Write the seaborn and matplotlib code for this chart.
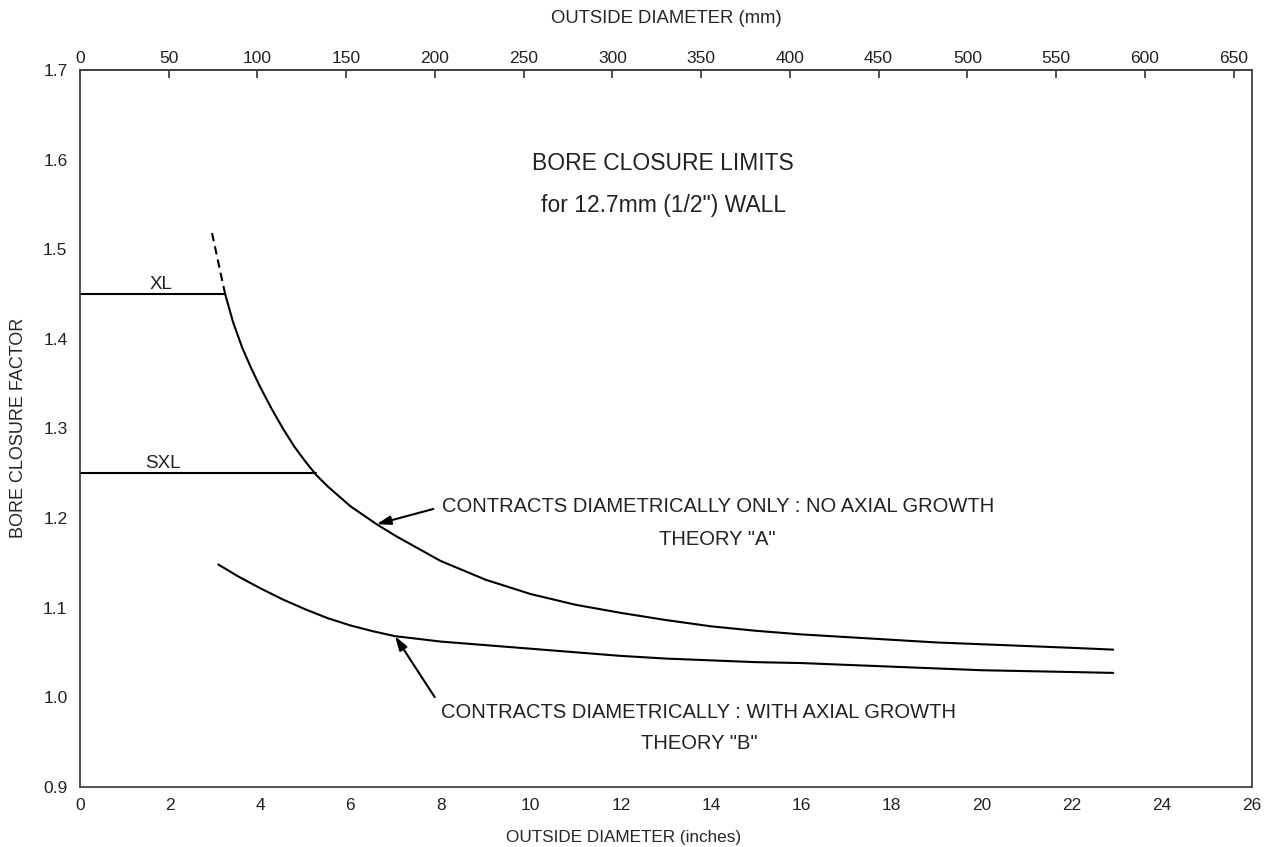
import pandas as pd
import matplotlib
matplotlib.use("Agg")
import matplotlib.pyplot as plt
import seaborn as sns

# --------------------------
# Data (inches vs bore closure factor)
# --------------------------
theory_a_dash_x = [2.93, 3.07, 3.22]
theory_a_dash_y = [1.518, 1.485, 1.450]

theory_a_x = [3.22, 3.4, 3.6, 3.8, 4.0, 4.25, 4.5, 4.75, 5.0, 5.24, 5.5, 6.0, 6.58, 7.0, 7.5,
              8.0, 9.0, 10.0, 11.0, 12.0, 13.0, 14.0, 15.0, 16.0, 17.0, 18.0, 19.0, 20.0,
              21.0, 22.0, 22.92]
theory_a_y = [1.450, 1.418, 1.390, 1.367, 1.346, 1.322, 1.300, 1.280, 1.263, 1.248, 1.235,
              1.213, 1.193, 1.180, 1.166, 1.152, 1.131, 1.115, 1.103, 1.094, 1.086, 1.079,
              1.074, 1.070, 1.067, 1.064, 1.061, 1.059, 1.057, 1.055, 1.053]

theory_b_x = [3.07, 3.5, 4.0, 4.5, 5.0, 5.25, 5.5, 6.0, 6.5, 6.99, 7.5, 8.0, 9.0, 10.0, 11.0,
              12.0, 13.0, 14.0, 15.0, 16.0, 17.0, 18.0, 19.0, 20.0, 21.0, 22.0, 22.92]
theory_b_y = [1.148, 1.135, 1.1215, 1.109, 1.098, 1.093, 1.088, 1.080, 1.0735, 1.068, 1.065,
              1.062, 1.058, 1.054, 1.050, 1.046, 1.043, 1.041, 1.039, 1.038, 1.036, 1.034,
              1.032, 1.030, 1.029, 1.028, 1.027]

xl_x = [0, 3.22]
xl_y = [1.45, 1.45]
sxl_x = [0, 5.24]
sxl_y = [1.25, 1.25]

x_ticks = list(range(0, 27, 2))
y_ticks = [0.9, 1.0, 1.1, 1.2, 1.3, 1.4, 1.5, 1.6, 1.7]
mm_ticks = list(range(0, 651, 50))

# --------------------------
# Style
# --------------------------
sns.set_theme(style="white")
plt.rcParams["font.family"] = ["Liberation Sans", "DejaVu Sans"]
plt.rcParams["text.color"] = "#222222"

fig = plt.figure(figsize=(12.65, 8.47), dpi=100)
ax = fig.add_axes([0.0632, 0.0712, 0.9265, 0.8462])

line_kw = dict(color="black", linewidth=1.5, estimator=None, sort=False, legend=False, ax=ax)

df_a = pd.DataFrame({"x": theory_a_x, "y": theory_a_y})
df_b = pd.DataFrame({"x": theory_b_x, "y": theory_b_y})

sns.lineplot(data=df_a, x="x", y="y", **line_kw)
sns.lineplot(data=df_b, x="x", y="y", **line_kw)
ax.plot(theory_a_dash_x, theory_a_dash_y, color="black", linewidth=1.5, linestyle=(0, (4, 2.5)))
ax.plot(xl_x, xl_y, color="black", linewidth=1.5)
ax.plot(sxl_x, sxl_y, color="black", linewidth=1.5)

ax.set_xlim(0, 26)
ax.set_ylim(0.9, 1.7)
ax.set_xticks(x_ticks)
ax.set_yticks(y_ticks)
ax.set_yticklabels([f"{v:.1f}" for v in y_ticks])
ax.tick_params(direction="in", length=6, width=1.2, color="#333333",
               labelsize=12.5, labelcolor="#222222", pad=9)
ax.tick_params(axis="x", pad=8)
for sp in ax.spines.values():
    sp.set_color("#444444")
    sp.set_linewidth(1.3)

ax.set_xlabel("OUTSIDE DIAMETER (inches)", fontsize=12.3)
ax.set_ylabel("BORE CLOSURE FACTOR", fontsize=13)
ax.xaxis.set_label_coords(0.464, -0.06)
ax.yaxis.set_label_coords(-0.045, 0.5)

# top axis in mm
top = ax.secondary_xaxis("top", functions=(lambda x: x * 25.4, lambda x: x / 25.4))
top.set_xticks(mm_ticks)
top.tick_params(direction="in", length=6, width=1.2, color="#333333",
                labelsize=12.5, labelcolor="#222222", pad=3)
top.set_xlabel("OUTSIDE DIAMETER (mm)", fontsize=13.3, labelpad=20)

# --------------------------
# Text annotations
# --------------------------
ax.text(12.94, 1.596, "BORE CLOSURE LIMITS", ha="center", va="center", fontsize=16.5)
ax.text(12.94, 1.549, "for 12.7mm (1/2\") WALL", ha="center", va="center", fontsize=16.5)
ax.text(1.8, 1.451, "XL", ha="center", va="bottom", fontsize=13.5)
ax.text(1.84, 1.251, "SXL", ha="center", va="bottom", fontsize=13.5)

ax.text(14.15, 1.213, "CONTRACTS DIAMETRICALLY ONLY : NO AXIAL GROWTH",
        ha="center", va="center", fontsize=14.5)
ax.text(14.15, 1.176, "THEORY \"A\"", ha="center", va="center", fontsize=14.5)
ax.text(13.73, 0.983, "CONTRACTS DIAMETRICALLY : WITH AXIAL GROWTH",
        ha="center", va="center", fontsize=14.5)
ax.text(13.73, 0.948, "THEORY \"B\"", ha="center", va="center", fontsize=14.5)

arrow = dict(arrowstyle="-|>,head_length=0.7,head_width=0.22", color="black", lw=1.5,
             shrinkA=0, shrinkB=0)
ax.annotate("", xy=(6.58, 1.193), xytext=(7.84, 1.210), arrowprops=arrow)
ax.annotate("", xy=(6.99, 1.068), xytext=(7.87, 1.000), arrowprops=arrow)

fig.savefig("out.png", dpi=100)
